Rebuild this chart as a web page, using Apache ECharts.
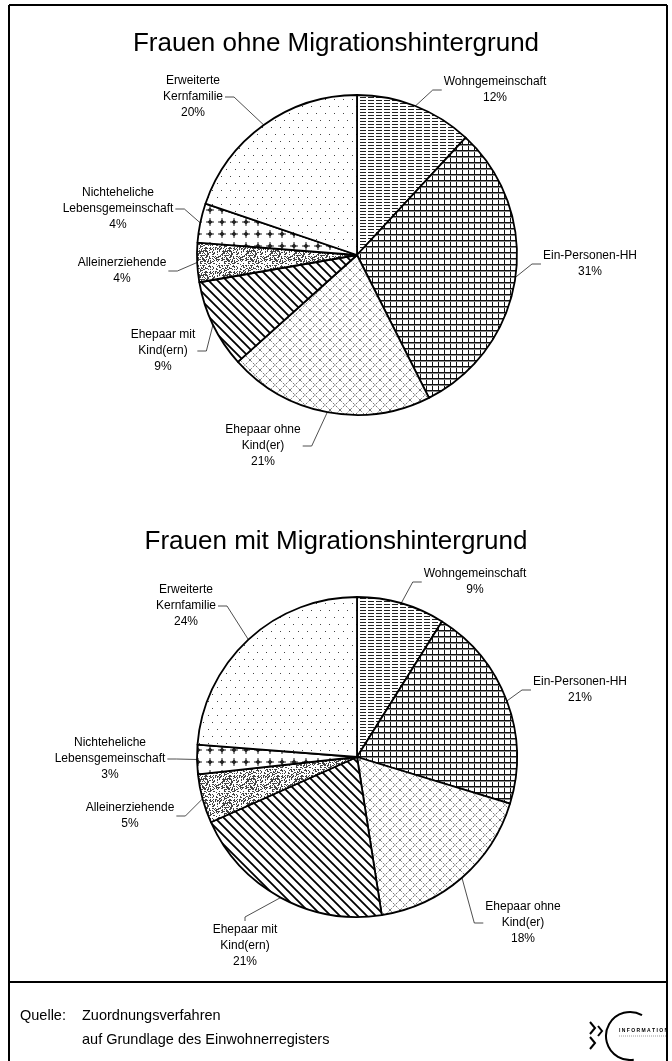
<!DOCTYPE html>
<html><head><meta charset="utf-8">
<script src="https://cdn.jsdelivr.net/npm/echarts@6/dist/echarts.min.js"></script>
<style>html,body{margin:0;padding:0;background:#fff}#c{width:672px;height:1061px}</style>
</head><body><div id="c"></div>
<script>
// ---- data ----
const categories = ['Wohngemeinschaft', 'Ein-Personen-HH', 'Ehepaar ohne\nKind(er)', 'Ehepaar mit\nKind(ern)', 'Alleinerziehende', 'Nichteheliche\nLebensgemeinschaft', 'Erweiterte\nKernfamilie'];
const valuesOhne = [12, 31, 21, 9, 4, 4, 20];
const valuesMit = [9, 21, 18, 21, 5, 3, 24];
const titles = ['Frauen ohne Migrationshintergrund', 'Frauen mit Migrationshintergrund'];
const sourceLabel = 'Quelle:';
const sourceLines = ['Zuordnungsverfahren', 'auf Grundlage des Einwohnerregisters'];
const logoText = 'I N F O R M A T I O N';

// ---- layout (label placement: centre x, centre y, side the leader line leaves from) ----
const labelPos = [
  [[495, 90, 'left'], [590, 264, 'left'], [263, 446, 'right'], [163, 351, 'right'], [122, 271, 'right'], [118, 209, 'right'], [193, 97, 'right']],
  [[475, 582, 'left'], [580, 690, 'left'], [523, 923, 'left'], [245, 946, 'top'], [130, 816, 'right'], [110, 759, 'right'], [186, 606, 'right']]
];
const FONT = '"Liberation Sans", Arial, sans-serif';

// ---- fill patterns ----
function mk(w, h, draw) {
  const c = document.createElement('canvas'); c.width = w; c.height = h;
  const g = c.getContext('2d'); g.fillStyle = '#fff'; g.fillRect(0, 0, w, h);
  draw(g, w, h);
  return { image: c, repeat: 'repeat' };
}
const patHLines = mk(8, 3, g => { g.fillStyle = '#222'; g.fillRect(0, 1, 6, 1); });
const patGrid = mk(6, 6, g => { g.fillStyle = '#111'; g.fillRect(0, 0, 6, 1); g.fillRect(0, 0, 1, 6); g.fillStyle = '#888'; g.fillRect(0, 1, 6, 1); });
const patLattice = mk(10, 10, g => {
  g.strokeStyle = '#555'; g.lineWidth = 0.8; g.setLineDash([2.5, 1.5]);
  g.beginPath(); g.moveTo(0, 10); g.lineTo(10, 0); g.moveTo(0, 0); g.lineTo(10, 10); g.stroke();
});
const patDiag = mk(9, 9, g => {
  g.strokeStyle = '#000'; g.lineWidth = 1.8; g.beginPath();
  g.moveTo(-3, -3); g.lineTo(12, 12); g.moveTo(-3, 6); g.lineTo(3, 12); g.moveTo(6, -3); g.lineTo(12, 3); g.stroke();
});
const patStipple = mk(24, 24, g => {
  let s = 12345; g.fillStyle = '#444';
  for (let y = 0; y < 24; y++) for (let x = 0; x < 24; x++) {
    s = (s * 1103515245 + 12345) & 0x7fffffff;
    if ((s >> 8) % 100 < 34) g.fillRect(x, y, 1, 1);
  }
});
const patStar = mk(12, 12, g => {
  g.fillStyle = '#222';
  g.fillRect(5.5, 2, 1, 8); g.fillRect(2, 5.5, 8, 1);
  g.beginPath(); g.moveTo(6, 3.5); g.lineTo(8.5, 6); g.lineTo(6, 8.5); g.lineTo(3.5, 6); g.closePath(); g.fill();
});
const patDots = mk(9, 14, g => { g.fillStyle = '#444'; g.fillRect(1, 1, 1, 1); g.fillRect(5, 8, 1, 1); });
const patterns = [patHLines, patGrid, patLattice, patDiag, patStipple, patStar, patDots];

function makeLayout(si) {
  return function (p) {
    const pos = labelPos[si][p.dataIndex];
    const x = pos[0], y = pos[1], side = pos[2];
    const w = p.labelRect.width, h = p.labelRect.height;
    const a = p.labelLinePoints ? p.labelLinePoints[0] : [x, y];
    let e, b;
    if (side === 'left') { e = [x - w / 2 - 2, y]; b = [e[0] - 9, y]; }
    else if (side === 'right') { e = [x + w / 2 + 2, y]; b = [e[0] + 9, y]; }
    else { e = [x, y - h / 2 - 1]; b = [x, e[1] - 4]; }
    return { x: x, y: y, align: 'center', verticalAlign: 'middle', labelLinePoints: [a, b, e] };
  };
}

function pieSeries(vals, cy, si) {
  return {
    type: 'pie', center: [357, cy], radius: 160, startAngle: 90, clockwise: true,
    avoidLabelOverlap: false, silent: true, animation: false,
    emphasis: { disabled: true },
    data: categories.map((n, i) => ({ name: n, value: vals[i], itemStyle: { color: patterns[i] } })),
    itemStyle: { borderColor: '#000', borderWidth: 1.8 },
    label: { show: true, position: 'outside', formatter: '{b}\n{c}%', fontSize: 12, lineHeight: 16, color: '#000', fontFamily: FONT, align: 'center' },
    labelLine: { show: true, length: 10, length2: 10, smooth: false, lineStyle: { color: '#222', width: 0.8 } },
    labelLayout: makeLayout(si)
  };
}

const chart = echarts.init(document.getElementById('c'), null, { renderer: 'canvas' });
const tStyle = { fontSize: 26, fontWeight: 'normal', fontFamily: FONT, color: '#000' };
const ln = (x1, y1, x2, y2, w) => ({ type: 'line', silent: true, shape: { x1, y1, x2, y2 }, style: { stroke: '#000', lineWidth: w || 1.5 } });
chart.setOption({
  backgroundColor: '#fff',
  title: [
    { text: titles[0], left: 'center', top: 31, padding: 0, textStyle: tStyle },
    { text: titles[1], left: 'center', top: 529, padding: 0, textStyle: tStyle }
  ],
  series: [pieSeries(valuesOhne, 255, 0), pieSeries(valuesMit, 757, 1)],
  graphic: [
    ln(9, 5, 667, 5, 2), ln(9, 5, 9, 1061, 2), ln(667, 5, 667, 1061, 2), ln(9, 982, 667, 982, 2),
    { type: 'text', silent: true, style: { text: sourceLabel, x: 20, y: 1016, font: '14.5px ' + FONT, fill: '#000', verticalAlign: 'middle' } },
    { type: 'text', silent: true, style: { text: sourceLines[0], x: 82, y: 1016, font: '14.5px ' + FONT, fill: '#000', verticalAlign: 'middle' } },
    { type: 'text', silent: true, style: { text: sourceLines[1], x: 82, y: 1040, font: '14.5px ' + FONT, fill: '#000', verticalAlign: 'middle' } },
    { type: 'polyline', silent: true, shape: { points: [[590, 1022], [595, 1028], [590, 1034]] }, style: { stroke: '#000', lineWidth: 2, fill: null } },
    { type: 'polyline', silent: true, shape: { points: [[590, 1037], [595, 1043], [590, 1049]] }, style: { stroke: '#000', lineWidth: 2, fill: null } },
    { type: 'polyline', silent: true, shape: { points: [[598, 1026], [602, 1031], [598, 1036]] }, style: { stroke: '#000', lineWidth: 2, fill: null } },
    { type: 'arc', silent: true, shape: { cx: 630, cy: 1036, r: 24, startAngle: -Math.PI / 3, endAngle: Math.PI * 0.45, clockwise: false }, style: { stroke: '#000', lineWidth: 2, fill: null } },
    { type: 'text', silent: true, style: { text: logoText, x: 619, y: 1031, font: 'bold 5px ' + FONT, fill: '#000', verticalAlign: 'middle' } },
    { type: 'line', silent: true, shape: { x1: 619, y1: 1036, x2: 666, y2: 1036 }, style: { stroke: '#999', lineWidth: 1, lineDash: [1, 1] } }
  ]
});
</script></body></html>
